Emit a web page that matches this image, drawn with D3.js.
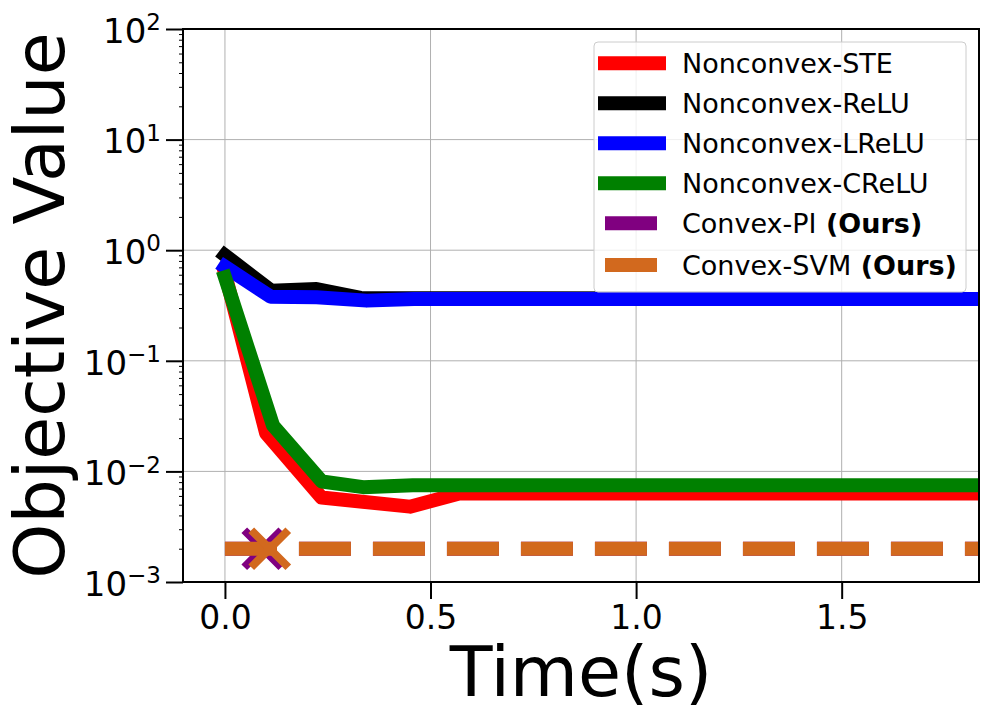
<!DOCTYPE html>
<html>
<head>
<meta charset="utf-8">
<script src="https://cdn.jsdelivr.net/npm/d3@7"></script>
<style>
  body { margin: 0; background: #fff; }
  svg { font-family: "DejaVu Sans", sans-serif; }
</style>
</head>
<body>
<svg id="chart" width="1008" height="720"></svg>
<script>
// values
var steTime = [0, 0.10, 0.235, 0.45, 0.57, 1.95];
var steObj = [0.62, 0.0222, 0.0058, 0.0048, 0.0063, 0.0063];
var reluTime = [0, 0.113, 0.223, 0.33, 1.95];
var reluObj = [0.90, 0.43, 0.445, 0.37, 0.362];
var lreluTime = [0, 0.111, 0.223, 0.345, 0.46, 1.95];
var lreluObj = [0.71, 0.38, 0.375, 0.35, 0.362, 0.362];
var creluTime = [0, 0.117, 0.236, 0.336, 0.457, 1.95];
var creluObj = [0.57, 0.026, 0.0081, 0.0072, 0.0075, 0.0075];
var piTime = [0, 1.95];
var piObj = [0.002, 0.002];
var piMark = [0.092, 0.002];
var svmTime = [0, 1.95];
var svmObj = [0.002, 0.002];
var svmMark = [0.109, 0.002];

var xTicks = [0.0, 0.5, 1.0, 1.5];
var yTicks = [1e-3, 1e-2, 1e-1, 1e0, 1e1, 1e2];
var yExp = ["\u22123", "\u22122", "\u22121", "0", "1", "2"];

var series = [
  { name: "Nonconvex-STE", time: steTime, obj: steObj, color: "#ff0000" },
  { name: "Nonconvex-ReLU", time: reluTime, obj: reluObj, color: "#000000" },
  { name: "Nonconvex-LReLU", time: lreluTime, obj: lreluObj, color: "#0000ff" },
  { name: "Nonconvex-CReLU", time: creluTime, obj: creluObj, color: "#008000" },
  { name: "Convex-PI", time: piTime, obj: piObj, color: "#800080", dashed: true, mark: piMark, ours: true },
  { name: "Convex-SVM", time: svmTime, obj: svmObj, color: "#d2691e", dashed: true, mark: svmMark, ours: true }
];

var pLeft = 183, pRight = 979, pTop = 29, pBottom = 582;
var svg = d3.select("#chart");

var x = d3.scaleLinear().domain([-0.102, 1.834]).range([pLeft, pRight]);
var y = d3.scaleLog().domain([1e-3, 1e2]).range([pBottom, pTop]);

// grid
var grid = svg.append("g").attr("stroke", "#b0b0b0").attr("stroke-width", 1);
xTicks.forEach(function (t) {
  grid.append("line").attr("x1", x(t)).attr("x2", x(t)).attr("y1", pTop).attr("y2", pBottom);
});
yTicks.forEach(function (t) {
  grid.append("line").attr("x1", pLeft).attr("x2", pRight).attr("y1", y(t)).attr("y2", y(t));
});

svg.append("clipPath").attr("id", "clip").append("rect")
  .attr("x", pLeft).attr("y", pTop).attr("width", pRight - pLeft).attr("height", pBottom - pTop);

var plot = svg.append("g").attr("clip-path", "url(#clip)");
var line = d3.line()
  .x(function (d) { return x(d[0]); })
  .y(function (d) { return y(d[1]); });

series.forEach(function (s) {
  var pts = s.time.map(function (t, i) { return [t, s.obj[i]]; });
  plot.append("path")
    .attr("d", line(pts))
    .attr("fill", "none")
    .attr("stroke", s.color)
    .attr("stroke-width", 14)
    .attr("stroke-linejoin", "round")
    .attr("stroke-linecap", s.dashed ? "butt" : "square")
    .attr("stroke-dasharray", s.dashed ? "52,22" : null);
  if (s.mark) {
    var a = 18.5;
    plot.append("path")
      .attr("transform", "translate(" + x(s.mark[0]) + "," + y(s.mark[1]) + ")")
      .attr("d", "M" + (-a) + "," + (-a) + "L" + a + "," + a + "M" + (-a) + "," + a + "L" + a + "," + (-a))
      .attr("stroke", s.color)
      .attr("stroke-width", 8)
      .attr("fill", "none");
  }
});

// frame
svg.append("rect")
  .attr("x", pLeft).attr("y", pTop).attr("width", pRight - pLeft).attr("height", pBottom - pTop)
  .attr("fill", "none").attr("stroke", "#000").attr("stroke-width", 2);

// x axis
var xAxis = svg.append("g")
  .attr("transform", "translate(0," + pBottom + ")")
  .call(d3.axisBottom(x).tickValues(xTicks).tickSize(17).tickPadding(7)
    .tickFormat(d3.format(".1f")));
xAxis.select(".domain").remove();
xAxis.selectAll("line").attr("stroke-width", 2);
xAxis.selectAll("text").attr("font-size", 33).attr("font-family", "DejaVu Sans").attr("fill", "#000");

// y axis: minor ticks
var minors = [];
for (var e = -3; e < 2; e++) {
  for (var m = 2; m < 10; m++) minors.push(m * Math.pow(10, e));
}
var yMinor = svg.append("g")
  .attr("transform", "translate(" + pLeft + ",0)")
  .call(d3.axisLeft(y).tickValues(minors).tickSize(4).tickFormat(function () { return ""; }));
yMinor.select(".domain").remove();
yMinor.selectAll("line").attr("stroke-width", 1);

var yAxis = svg.append("g")
  .attr("transform", "translate(" + pLeft + ",0)")
  .call(d3.axisLeft(y).tickValues(yTicks).tickSize(17).tickFormat(function () { return ""; }));
yAxis.select(".domain").remove();
yAxis.selectAll("line").attr("stroke-width", 2);
yAxis.selectAll(".tick").each(function (d) {
  var t = d3.select(this).append("text")
    .attr("x", -22).attr("y", 13.3)
    .attr("text-anchor", "end")
    .attr("font-size", 34)
    .attr("font-family", "DejaVu Sans")
    .attr("fill", "#000");
  t.append("tspan").text("10");
  t.append("tspan").attr("font-size", 23).attr("dy", -12.6).text(yExp[yTicks.indexOf(d)]);
});

// axis labels
svg.append("text")
  .attr("x", (pLeft + pRight) / 2).attr("y", 696)
  .attr("text-anchor", "middle").attr("font-size", 70)
  .text("Time(s)");
svg.append("text")
  .attr("transform", "translate(64," + (pTop + pBottom) / 2 + ") rotate(-90)")
  .attr("text-anchor", "middle").attr("font-size", 70)
  .text("Objective Value");

// legend
var lg = svg.append("g");
lg.append("rect")
  .attr("x", 594).attr("y", 42).attr("width", 372).attr("height", 250)
  .attr("rx", 4).attr("ry", 4)
  .attr("fill", "#fff").attr("fill-opacity", 0.8)
  .attr("stroke", "#cccccc").attr("stroke-width", 1);
var rowY = [63.3, 103.3, 143.3, 183.3, 223.3, 265];
series.forEach(function (s, i) {
  var ry = rowY[i];
  lg.append("line")
    .attr("x1", s.dashed ? 605 : 598).attr("x2", s.dashed ? 657 : 666)
    .attr("y1", ry).attr("y2", ry)
    .attr("stroke", s.color).attr("stroke-width", 14);
  var t = lg.append("text")
    .attr("x", 682).attr("y", ry + 9.8)
    .attr("font-size", 27).attr("fill", "#000");
  t.append("tspan").text(s.name);
  if (s.ours) t.append("tspan").attr("font-weight", "bold").text(" (Ours)");
});
</script>
</body>
</html>
